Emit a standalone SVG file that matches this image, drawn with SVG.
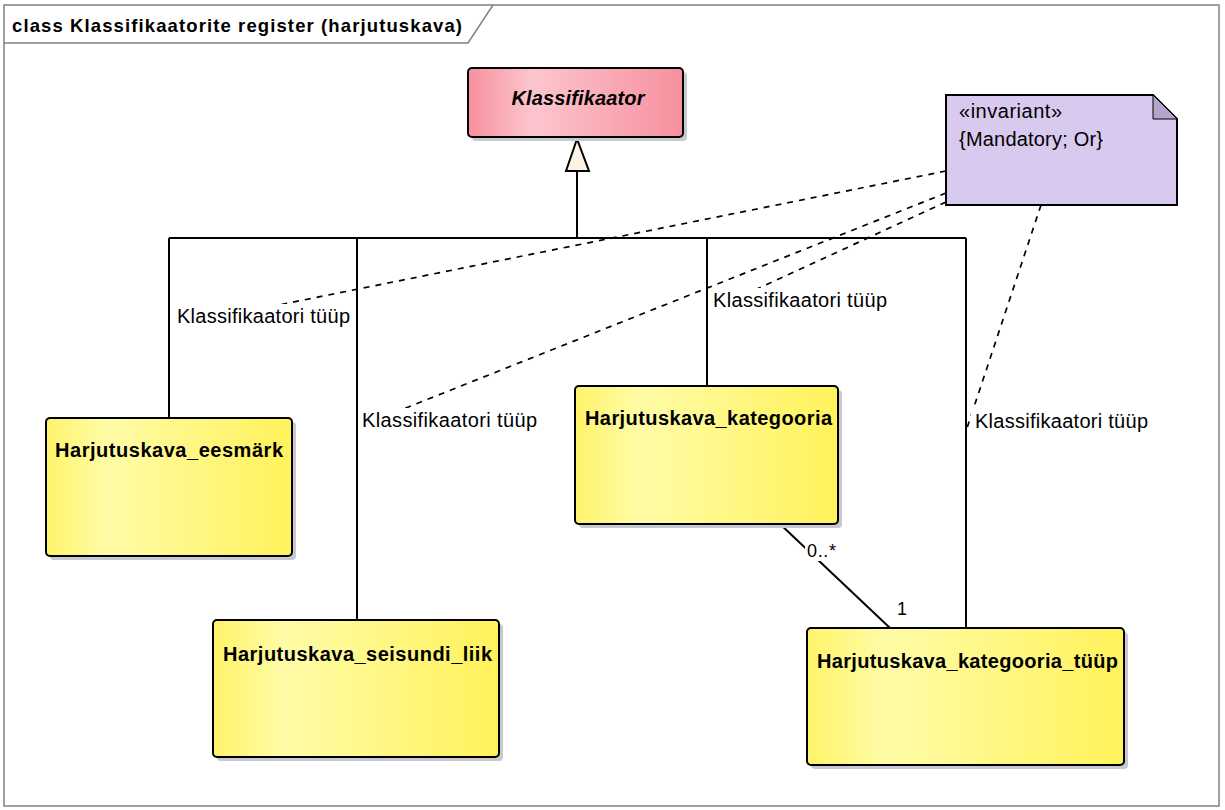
<svg xmlns="http://www.w3.org/2000/svg" width="1225" height="810" viewBox="0 0 1225 810">
  <style>
    text { font-family: "Liberation Sans", Arial, sans-serif; fill: #000; }
    .title { font-size: 18.5px; font-weight: bold; }
    .cls { font-size: 20px; font-weight: bold; }
    .abs { font-size: 20px; font-weight: bold; font-style: italic; }
    .lbl { font-size: 20px; }
    .mult { font-size: 18px; }
    .note { font-size: 20px; }
    .box { stroke: #000; stroke-width: 2; }
    .shadow { fill: #c8c8d0; }
    .solid { fill: none; stroke: #000; stroke-width: 2; }
    .dash { fill: none; stroke: #000; stroke-width: 1.7; stroke-dasharray: 6 6; }
    .bg { fill: #fff; }
  </style>
  <defs>
    <linearGradient id="yellow" x1="0" y1="0" x2="1" y2="0">
      <stop offset="0" stop-color="#fff36a"/>
      <stop offset="0.25" stop-color="#fffca8"/>
      <stop offset="1" stop-color="#fff25a"/>
    </linearGradient>
    <linearGradient id="pink" x1="0" y1="0" x2="1" y2="0">
      <stop offset="0" stop-color="#f7909d"/>
      <stop offset="0.3" stop-color="#fcc6ce"/>
      <stop offset="1" stop-color="#f7909e"/>
    </linearGradient>
  </defs>

  <rect x="0" y="0" width="1225" height="810" fill="#fff"/>

  <!-- diagram frame and title tab -->
  <g id="frame">
    <rect x="4" y="5" width="1215" height="801" fill="none" stroke="#808080" stroke-width="1.5"/>
    <path d="M4 43 H468 L493 5" fill="none" stroke="#808080" stroke-width="1.5"/>
    <text class="title" x="12" y="32" textLength="450" lengthAdjust="spacing">class Klassifikaatorite register (harjutuskava)</text>
  </g>

  <!-- connectors -->
  <g id="connectors">
    <!-- generalization tree -->
    <path class="solid" d="M577 171 V238 M169 238 H966 M169 238 V418 M357 238 V620 M707 238 V386 M966 238 V628"/>
    <polygon points="577,139 566,171 589,171" fill="#fcf4e4" stroke="#000" stroke-width="2"/>
    <!-- association -->
    <line class="solid" x1="780" y1="524" x2="890" y2="628"/>
    <!-- constraint links from the note -->
    <line class="dash" x1="946" y1="171" x2="174" y2="326"/>
    <line class="dash" x1="946" y1="193" x2="358" y2="427"/>
    <line class="dash" x1="946" y1="202" x2="707" y2="312"/>
    <line class="dash" x1="1041" y1="205" x2="967" y2="428"/>
  </g>

  <!-- connector labels -->
  <g id="labels">
    <rect class="bg" x="175" y="304" width="178" height="26"/>
    <text class="lbl" x="177" y="323" textLength="173" lengthAdjust="spacing">Klassifikaatori tüüp</text>
    <rect class="bg" x="360" y="408" width="180" height="24"/>
    <text class="lbl" x="362" y="427" textLength="175" lengthAdjust="spacing">Klassifikaatori tüüp</text>
    <rect class="bg" x="711" y="288" width="180" height="24"/>
    <text class="lbl" x="713" y="307" textLength="174" lengthAdjust="spacing">Klassifikaatori tüüp</text>
    <rect class="bg" x="971" y="409" width="180" height="24"/>
    <text class="lbl" x="975" y="428" textLength="173" lengthAdjust="spacing">Klassifikaatori tüüp</text>
    <rect class="bg" x="805" y="543" width="33" height="18"/>
    <text class="mult" x="807" y="557" textLength="29" lengthAdjust="spacing">0..*</text>
    <text class="mult" x="897" y="615">1</text>
  </g>

  <g id="Klassifikaator">
    <rect class="shadow" x="472" y="72" width="215" height="69" rx="4"/>
    <rect class="box" x="468" y="68" width="215" height="69" rx="4" fill="url(#pink)"/>
    <text class="abs" x="578" y="105" text-anchor="middle" textLength="133" lengthAdjust="spacing">Klassifikaator</text>
  </g>

  <g id="Harjutuskava_eesmark">
    <rect class="shadow" x="50" y="422" width="246" height="138" rx="4"/>
    <rect class="box" x="46" y="418" width="246" height="138" rx="4" fill="url(#yellow)"/>
    <text class="cls" x="55" y="457" textLength="228" lengthAdjust="spacing">Harjutuskava_eesmärk</text>
  </g>

  <g id="Harjutuskava_seisundi_liik">
    <rect class="shadow" x="217" y="624" width="286" height="137" rx="4"/>
    <rect class="box" x="213" y="620" width="286" height="137" rx="4" fill="url(#yellow)"/>
    <text class="cls" x="223" y="661" textLength="269" lengthAdjust="spacing">Harjutuskava_seisundi_liik</text>
  </g>

  <g id="Harjutuskava_kategooria">
    <rect class="shadow" x="579" y="390" width="263" height="138" rx="4"/>
    <rect class="box" x="575" y="386" width="263" height="138" rx="4" fill="url(#yellow)"/>
    <text class="cls" x="585" y="425" textLength="247" lengthAdjust="spacing">Harjutuskava_kategooria</text>
  </g>

  <g id="Harjutuskava_kategooria_tuup">
    <rect class="shadow" x="811" y="632" width="317" height="137" rx="4"/>
    <rect class="box" x="807" y="628" width="317" height="137" rx="4" fill="url(#yellow)"/>
    <text class="cls" x="817" y="668" textLength="301" lengthAdjust="spacing">Harjutuskava_kategooria_tüüp</text>
  </g>

  <g id="invariant_note">
    <path d="M946 95 H1153 L1177 119 V205 H946 Z" fill="#d8c9ee" stroke="#000" stroke-width="2"/>
    <path d="M1153 95 V119 H1177 Z" fill="#b4a4cc" stroke="#000" stroke-width="1"/>
    <text class="note" x="959" y="118" textLength="103" lengthAdjust="spacing">«invariant»</text>
    <text class="note" x="959" y="146" textLength="144" lengthAdjust="spacing">{Mandatory; Or}</text>
  </g>
</svg>
